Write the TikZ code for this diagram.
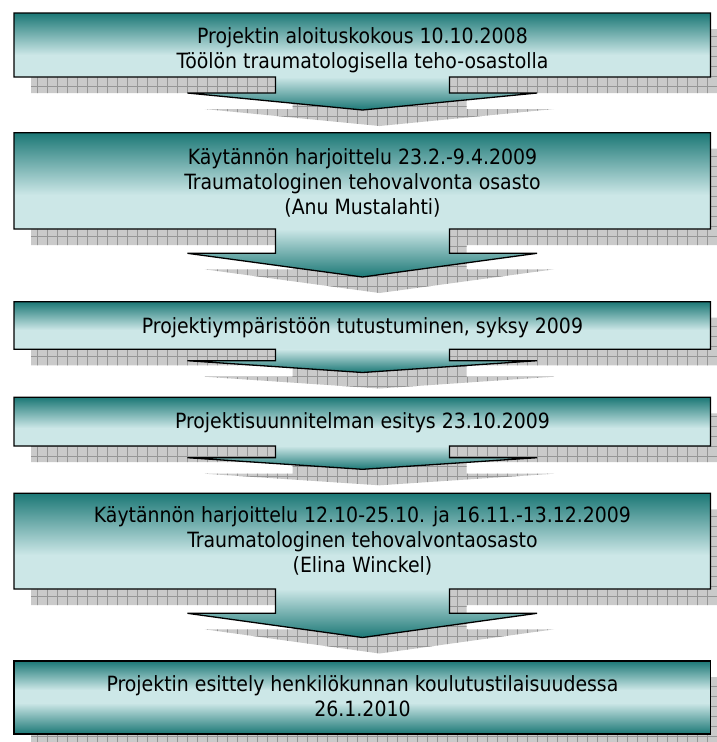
\documentclass[tikz,border=0pt]{standalone}
\usepackage{fontspec}
\setmainfont{DejaVu Sans Condensed}
\usepackage{tikz}
\usetikzlibrary{arrows, shapes}

\definecolor{tealdark}{RGB}{28,120,118}
\definecolor{teallight}{RGB}{204,231,231}
\definecolor{shadowfill}{RGB}{202,202,202}
\definecolor{shadowline}{RGB}{150,150,150}

% outline of one phase box with its down arrow: top, box bottom, head base, tip
\newcommand{\phaseoutline}[4]{(14,#1) -- (710.5,#1) -- (710.5,#2) -- (449.5,#2) -- (449.5,#3) -- (537,#3) -- (362.5,#4) -- (187.5,#3) -- (275.5,#3) -- (275.5,#2) -- (14,#2) -- cycle}

% shadow, shading and border of one phase box; #5 = where the light band starts
\newcommand{\phasebox}[5]{%
	\begin{scope}[xshift=17pt, yshift=-16pt]
		\clip \phaseoutline{#1}{#2}{#3}{#4};
		\fill[shadowfill] (0,0) rectangle (740,760);
		\draw[shadowline, line width=0.6pt, step=10pt] (0,0) grid (740,760);
	\end{scope}
	\begin{scope}
		\clip \phaseoutline{#1}{#2}{#3}{#4};
		\shade[top color=tealdark, bottom color=teallight] (10,#1) rectangle (715,#5);
		\fill[teallight] (10,#5-0.5) rectangle (715,#2+0.5);
		\shade[top color=teallight, bottom color=tealdark] (10,#2) rectangle (715,#4);
	\end{scope}
	\draw[line width=1.3pt, line join=miter] \phaseoutline{#1}{#2}{#3}{#4};
}

\begin{document}
\begin{tikzpicture}[x=1pt, y=-1pt,
		phasetext/.style={font=\fontsize{21}{25}\selectfont, align=center, anchor=base, inner sep=0pt}]
				\useasboundingbox (0,0) rectangle (717,742);
				\clip (0,0) rectangle (717,742);
				\phasebox{13}{77}{93}{110}{55}
				\phasebox{132.7}{229}{253.3}{277}{195}
				\phasebox{301.7}{349.3}{360.7}{372.5}{330}
				\phasebox{397.3}{446}{457.7}{469.3}{428}
				\phasebox{493.3}{589}{613.3}{637.5}{555}
				% last box has no arrow
				\begin{scope}[xshift=17pt, yshift=-16pt]
					\clip (14,661) rectangle (710.5,734);
					\fill[shadowfill] (0,0) rectangle (740,760);
					\draw[shadowline, line width=0.6pt, step=10pt] (0,0) grid (740,760);
				\end{scope}
				\shade[top color=tealdark, bottom color=teallight] (14,661) rectangle (710.5,690);
				\fill[teallight] (14,689.5) rectangle (710.5,703.5);
				\shade[top color=teallight, bottom color=tealdark] (14,703) rectangle (710.5,734);
				\draw[line width=1.3pt] (14,661) rectangle (710.5,734);
				% base anchor sits on the last line
				\node[phasetext] (kokous) at (362.5,68.3) {Projektin aloituskokous 10.10.2008\\Töölön traumatologisella teho-osastolla};
				\node[phasetext] (harjoittelu1) at (362.5,214) {Käytännön harjoittelu 23.2.-9.4.2009\\Traumatologinen tehovalvonta osasto\\(Anu Mustalahti)};
				\node[phasetext] (tutustuminen) at (362.5,333.3) {Projektiympäristöön tutustuminen, syksy 2009};
				\node[phasetext] (suunnitelma) at (362.5,428.3) {Projektisuunnitelman esitys 23.10.2009};
				\node[phasetext] (harjoittelu2) at (362.5,572) {Käytännön harjoittelu 12.10-25.10. ja 16.11.-13.12.2009\\Traumatologinen tehovalvontaosasto\\(Elina Winckel)};
				\node[phasetext] (esittely) at (362.5,716.7) {Projektin esittely henkilökunnan koulutustilaisuudessa\\26.1.2010};
			\end{tikzpicture}
\end{document}
